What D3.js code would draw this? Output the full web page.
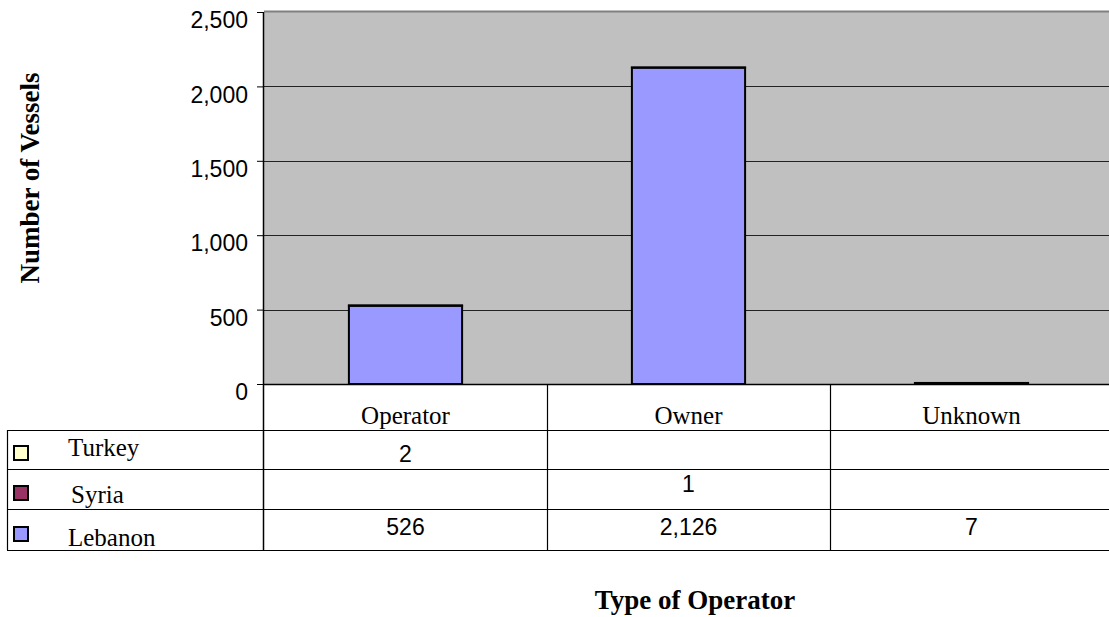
<!DOCTYPE html>
<html>
<head>
<meta charset="utf-8">
<script src="https://cdn.jsdelivr.net/npm/d3@7"></script>
<style>
  body { margin: 0; background: #fff; }
  svg { display: block; }
</style>
</head>
<body>
<script>
var w = 1109;
var h = 617;

// data
var categories = ["Operator", "Owner", "Unknown"];
var seriesNames = ["Turkey", "Syria", "Lebanon"];
var turkey = [2, null, null];
var syria = [null, 1, null];
var lebanon = [526, 2126, 7];
var seriesColors = ["#FFFFCC", "#993366", "#9999FF"];
var yTicks = [0, 500, 1000, 1500, 2000, 2500];

var seriesValues = [turkey, syria, lebanon];

var plotLeft = 264, plotTop = 12, plotBottom = 384, tableLeft = 7;
var rowLines = [430, 469, 509, 550];
var rowBase = [462, 492, 535];
var legendBase = [456, 503, 546];
var legendBox = [446, 486, 527];

var svg = d3.select("body")
            .append("svg")
              .attr("width", w)
              .attr("height", h);

var x = d3.scaleBand()
          .domain(categories)
          .range([plotLeft, plotLeft + 283 * 3])
          .padding(0);

var y = d3.scaleLinear()
          .domain([0, 2500])
          .range([plotBottom, plotTop]);

// plot background
svg.append("rect")
   .attr("x", plotLeft).attr("y", plotTop)
   .attr("width", w - plotLeft).attr("height", plotBottom - plotTop)
   .attr("fill", "#C0C0C0");
svg.append("line")
   .attr("x1", plotLeft).attr("x2", w)
   .attr("y1", plotTop - 0.5).attr("y2", plotTop - 0.5)
   .attr("stroke", "#808080").attr("stroke-width", 2);

// gridlines
svg.append("g")
   .selectAll("line")
   .data(yTicks.filter(function(d) { return d > 0 && d < 2500; }))
   .enter().append("line")
     .attr("x1", plotLeft).attr("x2", w)
     .attr("y1", function(d) { return Math.round(y(d)) + 0.5; })
     .attr("y2", function(d) { return Math.round(y(d)) + 0.5; })
     .attr("stroke", "#222").attr("stroke-width", 1);

// stacked bars, Lebanon at the bottom
var table = categories.map(function(c, i) {
  var row = { cat: c };
  seriesNames.forEach(function(s, j) { row[s] = seriesValues[j][i] || 0; });
  return row;
});
var stack = d3.stack().keys(seriesNames.slice().reverse());
var layers = stack(table);
var barW = x.bandwidth() * 0.4;

svg.append("g")
   .selectAll("g")
   .data(layers)
   .enter().append("g")
     .attr("fill", function(d) { return seriesColors[seriesNames.indexOf(d.key)]; })
   .selectAll("rect")
   .data(function(d) { return d.filter(function(p) { return p[1] - p[0] > 0; }); })
   .enter().append("rect")
     .attr("x", function(d) { return x(d.data.cat) + (x.bandwidth() - barW) / 2; })
     .attr("y", function(d) { return y(d[1]); })
     .attr("width", barW)
     .attr("height", function(d) { return y(d[0]) - y(d[1]); })
     .attr("stroke", "#000")
     .attr("stroke-width", 2);

// y axis
var yAxis = d3.axisLeft(y)
              .tickValues(yTicks)
              .tickSize(7)
              .tickFormat(d3.format(","));
var ax = svg.append("g")
   .attr("transform", "translate(" + plotLeft + ",0)")
   .call(yAxis);
ax.select(".domain").remove();
ax.selectAll(".tick line").attr("stroke", "#000");
ax.selectAll(".tick text")
  .attr("x", -16)
  .attr("dy", "0.68em")
  .attr("fill", "#000")
  .style("font-family", "Liberation Sans, Arial, sans-serif")
  .style("font-size", "23px");

svg.append("line")
   .attr("x1", plotLeft - 0.5).attr("x2", plotLeft - 0.5)
   .attr("y1", plotTop).attr("y2", rowLines[3])
   .attr("stroke", "#000").attr("stroke-width", 1.5);
svg.append("line")
   .attr("x1", plotLeft).attr("x2", w)
   .attr("y1", plotBottom + 0.5).attr("y2", plotBottom + 0.5)
   .attr("stroke", "#000").attr("stroke-width", 1.5);

// data table
var grid = svg.append("g").attr("stroke", "#000").attr("stroke-width", 1.2);
rowLines.forEach(function(ly) {
  grid.append("line")
      .attr("x1", tableLeft).attr("x2", w)
      .attr("y1", ly + 0.5).attr("y2", ly + 0.5);
});
grid.append("line")
    .attr("x1", tableLeft + 0.5).attr("x2", tableLeft + 0.5)
    .attr("y1", rowLines[0]).attr("y2", rowLines[3]);
categories.slice(1).forEach(function(c) {
  grid.append("line")
      .attr("x1", x(c) + 0.5).attr("x2", x(c) + 0.5)
      .attr("y1", plotBottom).attr("y2", rowLines[3]);
});

svg.append("g")
   .selectAll("text")
   .data(categories)
   .enter().append("text")
     .attr("x", function(d) { return x(d) + x.bandwidth() / 2; })
     .attr("y", 424)
     .attr("text-anchor", "middle")
     .style("font-family", "Liberation Serif, Times New Roman, serif")
     .style("font-size", "25px")
     .text(function(d) { return d; });

var fmt = d3.format(",");
seriesNames.forEach(function(s, j) {
  svg.append("g")
     .selectAll("text")
     .data(seriesValues[j])
     .enter().append("text")
       .attr("x", function(d, i) { return x(categories[i]) + x.bandwidth() / 2; })
       .attr("y", rowBase[j])
       .attr("text-anchor", "middle")
       .style("font-family", "Liberation Sans, Arial, sans-serif")
       .style("font-size", "23px")
       .text(function(d) { return d == null ? "" : fmt(d); });

  svg.append("rect")
     .attr("x", 14).attr("y", legendBox[j])
     .attr("width", 14).attr("height", 14)
     .attr("fill", seriesColors[j])
     .attr("stroke", "#000").attr("stroke-width", 2);
  svg.append("text")
     .attr("x", j == 1 ? 71 : 68)
     .attr("y", legendBase[j])
     .style("font-family", "Liberation Serif, Times New Roman, serif")
     .style("font-size", "25px")
     .text(s);
});

// axis titles
svg.append("text")
   .attr("transform", "translate(39,178) rotate(-90)")
   .attr("text-anchor", "middle")
   .style("font-family", "Liberation Serif, Times New Roman, serif")
   .style("font-size", "27px")
   .style("font-weight", "bold")
   .text("Number of Vessels");

svg.append("text")
   .attr("x", 695)
   .attr("y", 609)
   .attr("text-anchor", "middle")
   .style("font-family", "Liberation Serif, Times New Roman, serif")
   .style("font-size", "27px")
   .style("font-weight", "bold")
   .text("Type of Operator");
</script>
</body>
</html>
